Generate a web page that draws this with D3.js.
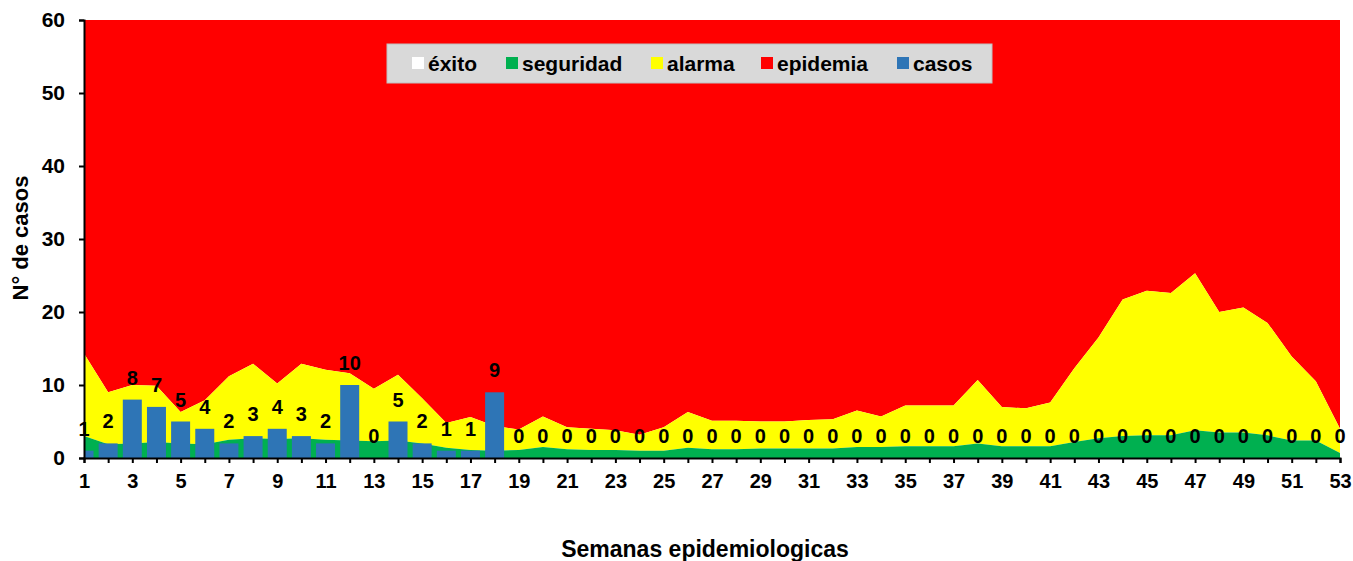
<!DOCTYPE html>
<html><head><meta charset="utf-8">
<script src="https://cdn.jsdelivr.net/npm/d3@7"></script>
<style>
html,body{margin:0;padding:0;background:#fff;}
text{font-family:"Liberation Sans",Arial,sans-serif;font-weight:bold;}
</style></head>
<body><svg id="chart" width="1353" height="561"></svg>
<script>
const semanas = [1,2,3,4,5,6,7,8,9,10,11,12,13,14,15,16,17,18,19,20,21,22,23,24,25,26,27,28,29,30,31,32,33,34,35,36,37,38,39,40,41,42,43,44,45,46,47,48,49,50,51,52,53];
const casos = [1,2,8,7,5,4,2,3,4,3,2,10,0,5,2,1,1,9,0,0,0,0,0,0,0,0,0,0,0,0,0,0,0,0,0,0,0,0,0,0,0,0,0,0,0,0,0,0,0,0,0,0,0];
// upper limit of each zone (cumulative)
const limSeguridad = [3.0,1.9,2.0,2.2,2.0,1.9,2.5,2.7,2.6,2.7,2.5,2.4,2.3,2.4,2.0,1.4,1.1,1.0,1.1,1.5,1.2,1.1,1.1,1.0,1.0,1.4,1.2,1.2,1.3,1.3,1.3,1.3,1.5,1.5,1.6,1.6,1.6,2.0,1.6,1.6,1.6,2.2,2.7,3.0,3.1,3.1,3.8,3.5,3.5,3.1,2.4,2.4,0.7];
const limAlarma = [14.3,9.0,10.0,9.9,6.3,7.9,11.2,12.9,10.2,12.9,12.1,11.6,9.5,11.4,8.2,4.8,5.6,4.4,3.9,5.7,4.2,4.0,3.8,3.2,4.2,6.3,5.1,5.1,5.0,5.0,5.2,5.3,6.5,5.7,7.2,7.2,7.2,10.7,7.0,6.8,7.6,12.3,16.5,21.7,22.9,22.6,25.3,20.0,20.6,18.5,13.9,10.5,4.0];
const limEpidemia = 60;
const yTicks = [0,10,20,30,40,50,60];
const xTickLabels = [1,3,5,7,9,11,13,15,17,19,21,23,25,27,29,31,33,35,37,39,41,43,45,47,49,51,53];
const legendItems = [
  {name:"éxito", color:"#ffffff"},
  {name:"seguridad", color:"#00b050"},
  {name:"alarma", color:"#ffff00"},
  {name:"epidemia", color:"#ff0000"},
  {name:"casos", color:"#2e75b6"}
];

const svg = d3.select("#chart");
const m = {left:84, right:13, top:20, bottom:103};
const W = 1353, H = 561;
const x = d3.scaleLinear().domain([1,53]).range([m.left, W-m.right]);
const y = d3.scaleLinear().domain([0,60]).range([H-m.bottom, m.top]);

svg.append("defs").append("clipPath").attr("id","plotclip")
  .append("rect").attr("x",m.left).attr("y",m.top)
  .attr("width",W-m.right-m.left).attr("height",H-m.bottom-m.top);

const g = svg.append("g").attr("clip-path","url(#plotclip)");
const rows = semanas.map((s,i)=>({s, seg:limSeguridad[i], ala:limAlarma[i], c:casos[i]}));

g.append("path").datum(rows).attr("fill","#ff0000")
  .attr("d", d3.area().x(d=>x(d.s)).y0(d=>y(d.ala)).y1(()=>y(limEpidemia)));
g.append("path").datum(rows).attr("fill","#ffff00")
  .attr("d", d3.area().x(d=>x(d.s)).y0(d=>y(d.seg)).y1(d=>y(d.ala)));
g.append("path").datum(rows).attr("fill","#00b050")
  .attr("d", d3.area().x(d=>x(d.s)).y0(()=>y(0)).y1(d=>y(d.seg)));

const bw = 19;
g.selectAll("rect.bar").data(rows).join("rect").attr("class","bar")
  .attr("x", d=>x(d.s)-bw/2).attr("width",bw)
  .attr("y", d=>y(d.c)).attr("height", d=>y(0)-y(d.c))
  .attr("fill","#2e75b6");

svg.append("g").selectAll("text").data(rows).join("text")
  .attr("x", d=>x(d.s)).attr("y", d=>y(d.c)-15)
  .attr("text-anchor","middle").attr("font-size",20).attr("fill","#000")
  .text(d=>d.c);

// axes
const xAxis = d3.axisBottom(x).tickValues(semanas).tickSize(5)
  .tickFormat(d=> xTickLabels.includes(d) ? d : "");
const gx = svg.append("g").attr("transform",`translate(0,${y(0)})`).call(xAxis);
gx.select(".domain").attr("stroke","#000").attr("stroke-width",2);
gx.selectAll(".tick line").attr("stroke","#000").attr("stroke-width",2);
gx.selectAll(".tick text").attr("font-size",20).attr("fill","#000").attr("y",16).attr("dy","0.71em")
  .style("font-family","Liberation Sans, Arial").style("font-weight","bold");

const yAxis = d3.axisLeft(y).tickValues(yTicks).tickSize(5);
const gy = svg.append("g").attr("transform",`translate(${m.left},0)`).call(yAxis);
gy.select(".domain").attr("stroke","#000").attr("stroke-width",2);
gy.selectAll(".tick line").attr("stroke","#000").attr("stroke-width",2);
gy.selectAll(".tick text").attr("font-size",21).attr("fill","#000").attr("x",-19)
  .style("font-family","Liberation Sans, Arial").style("font-weight","bold");

svg.append("text").attr("transform","translate(28,238) rotate(-90)")
  .attr("text-anchor","middle").attr("font-size",22).text("N° de casos");
svg.append("text").attr("x",705).attr("y",557)
  .attr("text-anchor","middle").attr("font-size",23).text("Semanas epidemiologicas");

// legend
const lg = svg.append("g");
lg.append("rect").attr("x",387).attr("y",44).attr("width",605).attr("height",39)
  .attr("fill","#d9d9d9").attr("stroke","#bfbfbf").attr("stroke-width",1);
const legX = [412, 506, 651, 761, 897];
legendItems.forEach((it,i)=>{
  lg.append("rect").attr("x",legX[i]).attr("y",57).attr("width",12).attr("height",12).attr("fill",it.color);
  lg.append("text").attr("x",legX[i]+16).attr("y",71).attr("font-size",21).attr("fill","#000").text(it.name);
});
</script></body></html>
